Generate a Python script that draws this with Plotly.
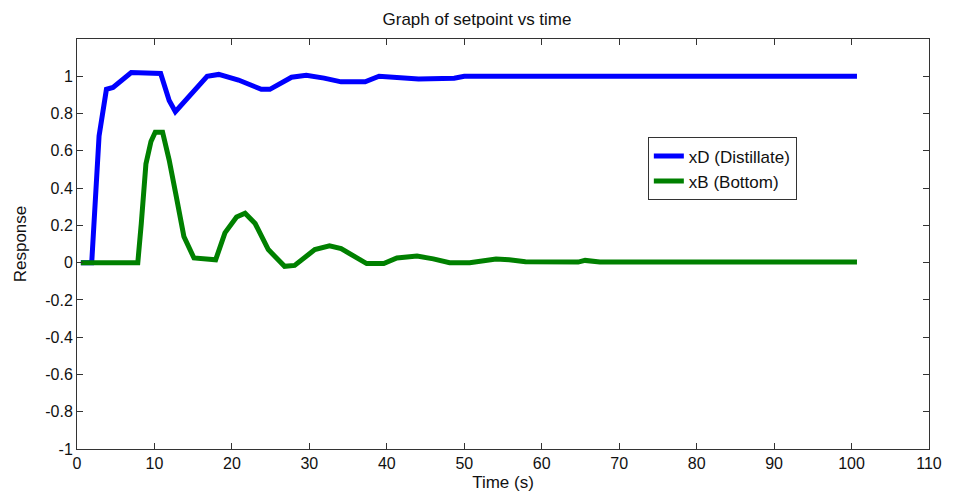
import plotly.graph_objects as go

# Time (s) and responses
t_xd = [0.5, 1.9, 2.85, 3.8, 4.65, 7.0, 10.8, 11.9, 12.7, 14.45, 16.8, 18.3, 20.85,
        23.8, 24.9, 27.7, 29.6, 31.9, 34.1, 37.2, 39.0, 44.1, 48.7, 50.0, 100.7]
xd = [0.0, 0.0, 0.68, 0.93, 0.94, 1.02, 1.015, 0.87, 0.81, 0.89, 1.0, 1.01, 0.98,
      0.93, 0.93, 0.995, 1.005, 0.99, 0.97, 0.97, 1.0, 0.985, 0.99, 1.0, 1.0]

t_xb = [0.5, 7.85, 8.3, 8.9, 9.55, 10.1, 11.05, 11.9, 12.75, 13.8, 15.1, 17.9, 19.1,
        20.6, 21.7, 23.0, 24.7, 26.8, 28.1, 30.7, 32.6, 34.1, 37.4, 39.6, 41.3, 43.9,
        46.0, 48.1, 50.7, 54.1, 55.8, 57.9, 64.7, 65.6, 67.5, 100.7]
xb = [0.0, 0.0, 0.21, 0.53, 0.65, 0.70, 0.70, 0.55, 0.37, 0.14, 0.025, 0.015, 0.16,
      0.245, 0.265, 0.21, 0.07, -0.02, -0.015, 0.07, 0.09, 0.075, -0.005, -0.005, 0.025, 0.035,
      0.02, 0.0, 0.0, 0.02, 0.015, 0.005, 0.003, 0.012, 0.003, 0.003]

x_ticks = list(range(0, 111, 10))
y_ticks = [round(-1 + 0.2 * i, 1) for i in range(11)]
y_labels = ["-1", "-0.8", "-0.6", "-0.4", "-0.2", "0", "0.2", "0.4", "0.6", "0.8", "1"]

FONT = "Liberation Sans, Arial"
TXT = "#111111"

fig = go.Figure()
fig.add_trace(go.Scatter(x=t_xd, y=xd, mode="lines", name="xD (Distillate)",
                         line=dict(color="#0000FF", width=5)))
fig.add_trace(go.Scatter(x=t_xb, y=xb, mode="lines", name="xB (Bottom)",
                         line=dict(color="#008000", width=5)))

axis_common = dict(showline=True, linecolor="#333333", linewidth=1, mirror="ticks",
                   ticks="inside", ticklen=6, tickcolor="#333333", showgrid=False,
                   zeroline=False, tickfont=dict(family=FONT, size=16, color=TXT))

fig.update_layout(
    width=954, height=500,
    margin=dict(l=77, r=18, t=39, b=49),
    paper_bgcolor="white", plot_bgcolor="white",
    title=dict(text="Graph of setpoint vs time", x=0.5, xanchor="center", y=0.962, yanchor="middle",
               font=dict(family=FONT, size=17, color=TXT)),
    xaxis=dict(range=[0, 110], tickvals=x_ticks,
               title=dict(text="Time (s)", standoff=4, font=dict(family=FONT, size=17, color=TXT)),
               **axis_common),
    yaxis=dict(range=[-1, 1.2], tickvals=y_ticks, ticktext=y_labels,
               title=dict(text="Response", standoff=14, font=dict(family=FONT, size=17, color=TXT)),
               **axis_common),
    legend=dict(x=0.67, y=0.76, xanchor="left", yanchor="top", bgcolor="white",
                bordercolor="#333333", borderwidth=1,
                font=dict(family=FONT, size=17, color=TXT),
                tracegroupgap=0),
    showlegend=True,
)

fig.write_html("out.html")
